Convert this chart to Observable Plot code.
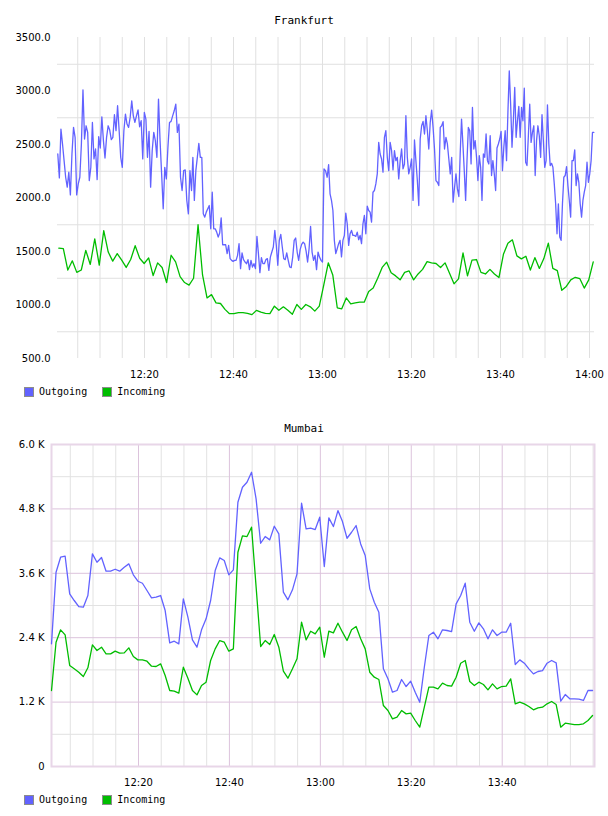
<!DOCTYPE html>
<html><head><meta charset="utf-8">
<script src="https://cdn.jsdelivr.net/npm/d3@7"></script>
<script src="https://cdn.jsdelivr.net/npm/@observablehq/plot@0.6"></script>
<style>
body{margin:0;background:#fff;width:608px;height:816px;position:relative;overflow:hidden;}
.title{position:absolute;left:0;width:608px;text-align:center;font:11px/13px "DejaVu Sans Mono",monospace;color:#000;}
.chart{position:absolute;left:0;}
.legend{position:absolute;left:24px;height:10px;display:flex;align-items:center;font:10px/10px "DejaVu Sans Mono",monospace;color:#000;}
.item{display:flex;align-items:center;margin-right:15px;}
.sw{width:8px;height:8px;border:1px solid #8c8c8c;margin-right:5px;}
</style></head>
<body>
<div class="title" style="top:14px">Frankfurt</div>
<div id="c1" class="chart" style="top:30px"></div>
<div id="l1" class="legend" style="top:387px"></div>
<div class="title" style="top:422px">Mumbai</div>
<div id="c2" class="chart" style="top:440px"></div>
<div id="l2" class="legend" style="top:795px"></div>
<script>
// ---------- series names / colours ----------
const seriesNames = ["Outgoing", "Incoming"];
const seriesColors = ["#6262ff", "#00bd00"];

// ---------- Frankfurt: Outgoing (four read-off stretches, evenly sampled within each) ----------
const frankfurtOutSpans = [["12:00:31","12:30:34"],["12:30:52","13:00:40"],["13:01:03","13:30:38"],["13:30:56","14:00:58"]];
const frankfurtOut1 = [2411,2188,2644,2505,2349,2194,2101,2241,2029,2411,
2660,2567,2029,2132,2194,2505,3011,2551,2675,2613,
2163,2287,2706,2365,2458,2172,2573,2467,2759,2536,
2374,2567,2675,2635,2545,2567,2778,2629,2862,2629,
2380,2287,2629,2784,2691,2660,2753,2908,2768,2706,
2768,2824,2666,2722,2365,2800,2737,2380,2623,2101,
2442,2613,2536,2380,2924,2536,2225,1899,2287,2178,
2474,2706,2716,2768,2815,2877,2613,2691,2194,2070,
2256,2262,1977,1852,2256,2070];
const frankfurtOut2 = [2380,1977,2256,2380,2511,2380,2380,1852,1821,1868,
1899,1930,1712,2054,1712,1712,1681,1635,1672,1815,
1563,1563,1563,1480,1557,1433,1417,1408,1417,1417,
1464,1573,1340,1486,1424,1402,1386,1424,1330,1417,
1355,1386,1340,1641,1480,1302,1442,1386,1386,1424,
1433,1324,1448,1495,1542,1697,1557,1371,1604,1660,
1542,1433,1424,1486,1417,1355,1349,1448,1604,1626,
1495,1417,1517,1567,1588,1573,1504,1402,1526,1734,
1495,1417,1464,1330,1495,1448,1417,1402,2272,2256];
const frankfurtOut3 = [2194,2312,2039,1977,1883,1604,1480,1526,1573,1604,
1449,1604,1650,1859,1759,1557,1666,1697,1650,1650,
1641,1681,1610,1650,1573,1759,1837,1666,1924,1883,
1868,1775,2054,2070,2132,2225,2520,2411,2365,2241,
2567,2629,2380,2256,2520,2442,2262,2442,2349,2380,
2178,2349,2458,2272,2318,2769,2380,2225,2287,2365,
1977,2542,2349,2163,1930,2551,2675,2716,2598,2769,
2629,2458,2706,2821,2660,2458,2163,2147,2116,2660,
2675,2713,2458,2567,2505,2365,2225,2380,1961,2101,
2225,2085,2014];
const frankfurtOut4 = [2411,2737,2505,2256,1977,2349,2660,2629,2318,2846,
2458,2536,2380,2163,2396,2287,1977,2411,2380,2598,
2349,2318,2582,2210,2349,2225,2070,2467,2505,2551,
2623,2256,2474,2629,2349,2800,3188,2877,2474,2722,
3033,2567,2722,2856,2567,2846,2722,3026,2334,2303,
2582,2877,2520,2613,2675,2210,2536,2675,2582,2380,
2778,2536,2287,2349,2871,2505,2303,2324,2287,2132,
1946,1666,1946,1635,1604,1946,2194,2210,2293,2116,
1977,1821,2349,2349,2449,2116,2225,2147,1946,1821,
1977,2054,2116,2334,2147,2225,2349,2613,2613];

// ---------- Frankfurt: Incoming (about one sample a minute) ----------
const frankfurtInSpan = ["12:00:45","14:00:50"];
const frankfurtIn = [1532,1526,1327,1413,1305,1327,1511,1379,1618,1373,
1695,1495,1410,1480,1419,1351,1425,1554,1437,1388,
1440,1275,1394,1351,1210,1465,1403,1265,1210,1186,
1250,1750,1281,1066,1097,1020,1014,959,919,919,
928,928,922,910,950,934,922,919,989,950,
983,950,913,1005,959,
1005,983,943,989,1189,1394,1281,974,964,1066,
1011,1020,1026,1026,1127,1158,1250,1351,1400,1302,
1272,1235,1305,1318,1235,1290,1333,1406,1394,1388,
1351,1394,1296,1198,1244,1486,1272,1419,1425,1305,
1290,1333,1290,1256,1474,1578,1609,1459,1431,1456,
1327,1443,1342,1434,1578,1342,1321,1137,1173,1235,
1259,1247,1158,1235,1403];

// ---------- Mumbai (one sample a minute) ----------
const mumbaiSpan = ["12:00:52","13:59:52"];
const mumbaiOut = [2286,3620,3900,3918,3217,3093,2981,2968,3186,3962,
3806,3894,3639,3639,3676,3639,3713,3776,3571,3452,
3415,3279,3143,3155,3186,2906,2304,2335,2286,3124,
2782,2360,2223,2547,2751,3093,3651,3888,3838,3571,
3664,4924,5203,5297,5483,4987,4160,4285,4223,4477,
4335,3248,3106,3292,3590,4906,4428,4440,4415,4645,
3726,4633,4471,4769,4564,4253,4365,4490,4148,3931,
3310,3061,2875,1820,1634,1385,1416,1621,1490,1590,
1385,1198,1850,2441,2503,2379,2547,2534,2515,3031,
3186,3415,2689,2521,2677,2565,2379,2547,2441,2503,
2503,2670,1900,1987,1925,1820,1727,1770,1788,1925,
1975,1932,1217,1341,1261,1261,1254,1230,1416,1416];
const mumbaiIn = [1416,2316,2547,2453,1882,1820,1757,1677,1839,2267,
2161,2223,2099,2099,2149,2112,2118,2211,2049,1987,
1987,1962,1869,1863,1913,1695,1416,1403,1366,1850,
1645,1416,1335,1509,1571,1975,2192,2347,2316,2149,
2192,3993,4298,4285,4459,3350,2236,2347,2273,2459,
2223,1776,1645,1820,2006,2689,2360,2521,2472,2596,
2036,2521,2490,2670,2503,2347,2547,2608,2379,2192,
1757,1664,1621,1136,1043,888,919,1043,981,994,
857,733,1105,1478,1478,1447,1553,1509,1497,1664,
1925,1975,1584,1509,1571,1528,1428,1540,1447,1490,
1497,1634,1168,1198,1168,1118,1056,1093,1105,1168,
1211,1155,733,807,795,782,782,795,857,950];

// ---------- axes ----------
const frankfurtDomain = ["12:00:27","14:01:07"];
const mumbaiDomain = ["12:00:52","14:00:18"];
const frankfurtTimeTicks = ["12:20","12:40","13:00","13:20","13:40","14:00"];
const mumbaiTimeTicks = ["12:20","12:40","13:00","13:20","13:40"];
const frankfurtYTicks = [500,1000,1500,2000,2500,3000,3500];
const frankfurtYGrid = [750,1250,1750,2250,2750,3250];
const mumbaiYTicks = [0,1200,2400,3600,4800,6000];
const mumbaiYMajorGrid = [1200,2400,3600,4800];
const mumbaiYMinorGrid = [600,1800,3000,4200,5400];

// ---------- helpers ----------
const pT = d3.utcParse("%H:%M:%S");
const pM = s => pT(s.length === 5 ? s + ":00" : s);
function spread(values, span, series) {
  const a = +pM(span[0]), b = +pM(span[1]), n = values.length;
  return values.map((v, i) => ({date: new Date(a + (b - a) * i / (n - 1)), value: v, series}));
}
const fOut = [frankfurtOut1, frankfurtOut2, frankfurtOut3, frankfurtOut4]
  .flatMap((arr, k) => spread(arr, frankfurtOutSpans[k], seriesNames[0]));
const fIn = spread(frankfurtIn, frankfurtInSpan, seriesNames[1]);
const mOut = spread(mumbaiOut, mumbaiSpan, seriesNames[0]);
const mIn = spread(mumbaiIn, mumbaiSpan, seriesNames[1]);

function fiveMin(domain) {
  return d3.utcMinute.every(5).range(pM(domain[0]), pM(domain[1]));
}
const baseStyle = {fontFamily: "'DejaVu Sans', sans-serif", fontSize: "10px", color: "#000", background: "transparent", overflow: "visible"};
const fmtT = d3.utcFormat("%H:%M");

// ---------- Frankfurt ----------
const gridF = "#e0e0e0";
const chart1 = Plot.plot({
  width: 608, height: 350,
  marginLeft: 57, marginRight: 14, marginTop: 7, marginBottom: 22,
  style: baseStyle,
  x: {type: "utc", domain: frankfurtDomain.map(pM)},
  y: {domain: [500, 3500]},
  marks: [
    Plot.ruleY(frankfurtYGrid, {stroke: gridF, strokeWidth: 1}),
    Plot.ruleX(fiveMin(frankfurtDomain), {stroke: gridF, strokeWidth: 1}),
    Plot.axisY({ticks: frankfurtYTicks, tickSize: 0, tickPadding: 7, tickFormat: d3.format(".1f"), label: null}),
    Plot.axisX({ticks: frankfurtTimeTicks.map(pM), tickSize: 0, tickPadding: 12, tickFormat: fmtT, label: null}),
    Plot.line(fOut, {x: "date", y: "value", stroke: seriesColors[0], strokeWidth: 1.3}),
    Plot.line(fIn, {x: "date", y: "value", stroke: seriesColors[1], strokeWidth: 1.3})
  ]
});
document.getElementById("c1").appendChild(chart1);

// ---------- Mumbai ----------
const gridMinor = "#e2e2e2", gridMajor = "#dcc3dc";
const majorTimes = mumbaiTimeTicks.map(s => +pM(s));
const minorTimes = fiveMin(mumbaiDomain).filter(d => !majorTimes.includes(+d));
const chart2 = Plot.plot({
  width: 608, height: 350,
  marginLeft: 51, marginRight: 14, marginTop: 4, marginBottom: 24,
  style: baseStyle,
  x: {type: "utc", domain: mumbaiDomain.map(pM)},
  y: {domain: [0, 6000]},
  marks: [
    Plot.ruleY(mumbaiYMinorGrid, {stroke: gridMinor, strokeWidth: 1}),
    Plot.ruleX(minorTimes, {stroke: gridMinor, strokeWidth: 1}),
    Plot.ruleY(mumbaiYMajorGrid, {stroke: gridMajor, strokeWidth: 1}),
    Plot.ruleX(mumbaiTimeTicks.map(pM), {stroke: gridMajor, strokeWidth: 1}),
    Plot.frame({stroke: "#e8d6e8", strokeWidth: 2}),
    Plot.axisY({ticks: mumbaiYTicks, tickSize: 0, tickPadding: 7, tickFormat: v => v === 0 ? "0" : (v / 1000).toFixed(1) + " K", label: null}),
    Plot.axisX({ticks: mumbaiTimeTicks.map(pM), tickSize: 0, tickPadding: 12, tickFormat: fmtT, label: null}),
    Plot.line(mOut, {x: "date", y: "value", stroke: seriesColors[0], strokeWidth: 1.3}),
    Plot.line(mIn, {x: "date", y: "value", stroke: seriesColors[1], strokeWidth: 1.3})
  ]
});
document.getElementById("c2").appendChild(chart2);

// ---------- legends ----------
for (const id of ["l1", "l2"]) {
  const el = document.getElementById(id);
  seriesNames.forEach((name, i) => {
    const item = document.createElement("div");
    item.className = "item";
    const sw = document.createElement("div");
    sw.className = "sw";
    sw.style.background = seriesColors[i];
    const tx = document.createElement("span");
    tx.textContent = name;
    item.appendChild(sw); item.appendChild(tx);
    el.appendChild(item);
  });
}
</script>
</body></html>
